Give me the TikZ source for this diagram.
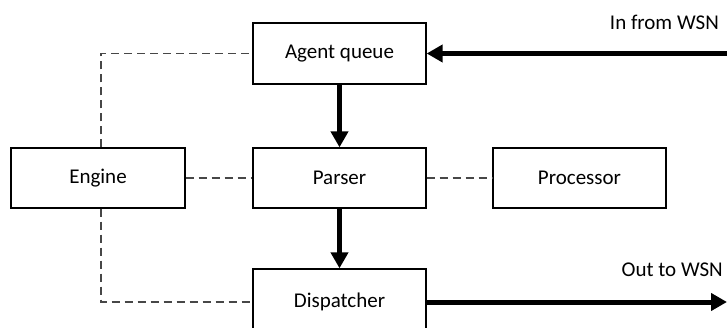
\documentclass[tikz,border=0pt]{standalone}
\usepackage{fontspec}
\setmainfont{Carlito}
\usetikzlibrary{arrows.meta,calc}
\tikzset{
  box/.style={draw=black, line width=1.3pt, fill=white, minimum width=173pt, minimum height=61pt, inner sep=0pt, font=\fontsize{21}{25}\selectfont},
  link/.style={draw=black!72, line width=1.5pt, dash pattern=on 8pt off 5pt},
  flow/.style={line width=5pt, -{Triangle[length=16pt,width=17pt]}},
  lbl/.style={inner sep=0pt, font=\fontsize{21}{25}\selectfont}
}
\begin{document}
\begin{tikzpicture}[x=1pt,y=-1pt]
\useasboundingbox (0,0) rectangle (727,328);
\node[box] (aq) at (339.5,53.5) {Agent queue};
\node[box, minimum height=60pt] (parser) at (339.5,178) {Parser};
\node[box, minimum width=174pt, minimum height=60pt] (engine) at (98,178) {Engine};
\node[box, minimum height=60pt] (proc) at (579.5,178) {Processor};
\node[box, minimum height=66pt] (disp) at (339.5,302) {Dispatcher};
\coordinate (inR) at (728,53.5);
\coordinate (outR) at (727,302);
\node[lbl, anchor=east] (inlbl) at (719,22) {In from WSN};
\node[lbl, anchor=east] (outlbl) at (723,270) {Out to WSN};
\draw[link] ([xshift=3pt]engine.north) |- (aq.west);
\draw[link] ([xshift=3pt]engine.south) |- (disp.west);
\draw[link] (engine.east) -- (parser.west);
\draw[link] (parser.east) -- (proc.west);
\draw[flow] (aq.south) -- (parser.north);
\draw[flow] (parser.south) -- (disp.north);
\draw[flow] (inR) -- (aq.east);
\draw[flow] (disp.east) -- (outR);
\end{tikzpicture}
\end{document}
